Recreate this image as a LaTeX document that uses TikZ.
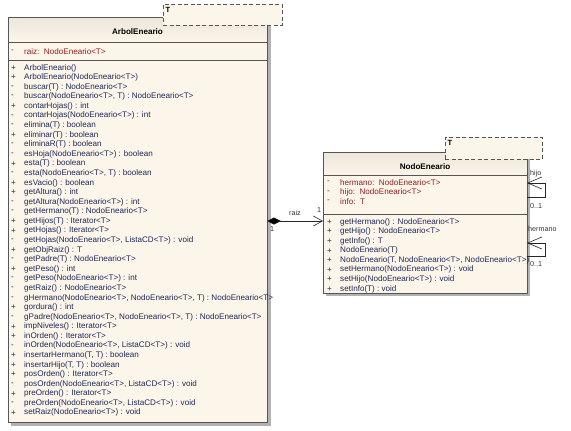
\documentclass[tikz,border=0pt]{standalone}
\usepackage{fontspec}
\setmainfont{Liberation Sans}
\usetikzlibrary{arrows.meta}
\definecolor{cream}{RGB}{252,245,234}
\definecolor{creamtop}{RGB}{236,229,217}
\definecolor{attrc}{RGB}{150,30,30}
\definecolor{methc}{RGB}{30,40,90}
\definecolor{edgec}{RGB}{85,85,85}
\tikzset{
 classbox/.style={fill=cream, draw=none, inner sep=0pt, outer sep=0pt, anchor=north west},
 border/.style={draw=edgec, line width=0.8pt},
 tmpl/.style={draw=edgec, dash pattern=on 4pt off 2.5pt, fill=cream, line width=0.8pt},
 shadowbox/.style={fill=black!30, draw=none},
 txt/.style={font=\fontsize{8.1}{9}\selectfont, inner sep=0pt, anchor=west},
 attr/.style={txt, text=attrc},
 meth/.style={txt, text=methc},
 ctitle/.style={font=\fontsize{8.1}{9}\selectfont\bfseries, inner sep=0pt},
 tlabel/.style={font=\fontsize{7.5}{8}\selectfont\bfseries, inner sep=0pt, anchor=west},
 lbl/.style={font=\fontsize{7.2}{8}\selectfont, inner sep=0pt, text=black!80},
 conn/.style={draw=black!85, line width=0.6pt},
}
\begin{document}
\begin{tikzpicture}[x=1pt,y=-1pt]
\useasboundingbox (0,0) rectangle (571,431);

% ---------- ArbolEneario ----------
\fill[shadowbox] (11,20) rectangle (271,426);
\node[classbox, minimum width=259pt, minimum height=405pt] (arbol) at (8,17) {};
\shade[top color=creamtop, bottom color=cream] (8,17) rectangle (267,42);
\draw[border] (8,42) -- (267,42);
\draw[border] (8,60) -- (267,60);
\draw[border] (arbol.north west) rectangle (arbol.south east);
\node[tmpl, minimum width=119pt, minimum height=21pt, inner sep=0pt, anchor=north west] (tA) at (163,4) {};
\node[tlabel] (tAT) at (165.5,9.5) {T};
\node[ctitle] (arbolT) at (137.5,32) {ArbolEneario};
\node[attr] (av) at (11,51.5) {-};
\node[attr] (aa) at (24,51.5) {raiz:\ \ NodoEneario<T>};

\foreach \v/\t [count=\i from 0] in {
 +/{ArbolEneario()},
 +/{ArbolEneario(NodoEneario<T>)},
 -/{buscar(T) : NodoEneario<T>},
 -/{buscar(NodoEneario<T>, T) : NodoEneario<T>},
 +/{contarHojas() : int},
 -/{contarHojas(NodoEneario<T>) : int},
 -/{elimina(T) : boolean},
 +/{eliminar(T) : boolean},
 -/{eliminaR(T) : boolean},
 -/{esHoja(NodoEneario<T>) : boolean},
 +/{esta(T) : boolean},
 -/{esta(NodoEneario<T>, T) : boolean},
 +/{esVacio() : boolean},
 +/{getAltura() : int},
 -/{getAltura(NodoEneario<T>) : int},
 -/{getHermano(T) : NodoEneario<T>},
 +/{getHijos(T) : Iterator<T>},
 +/{getHojas() : Iterator<T>},
 -/{getHojas(NodoEneario<T>, ListaCD<T>) : void},
 +/{getObjRaiz() : T},
 -/{getPadre(T) : NodoEneario<T>},
 +/{getPeso() : int},
 -/{getPeso(NodoEneario<T>) : int},
 -/{getRaiz() : NodoEneario<T>},
 -/{gHermano(NodoEneario<T>, NodoEneario<T>, T) : NodoEneario<T>},
 +/{gordura() : int},
 -/{gPadre(NodoEneario<T>, NodoEneario<T>, T) : NodoEneario<T>},
 +/{impNiveles() : Iterator<T>},
 +/{inOrden() : Iterator<T>},
 -/{inOrden(NodoEneario<T>, ListaCD<T>) : void},
 +/{insertarHermano(T, T) : boolean},
 +/{insertarHijo(T, T) : boolean},
 +/{posOrden() : Iterator<T>},
 -/{posOrden(NodoEneario<T>, ListaCD<T>) : void},
 +/{preOrden() : Iterator<T>},
 -/{preOrden(NodoEneario<T>, ListaCD<T>) : void},
 +/{setRaiz(NodoEneario<T>) : void}}{
  \node[meth] (amv\i) at (11,{68+\i*9.58}) {\v};
  \node[meth] (am\i) at (24,{68+\i*9.58}) {\t};
}

% ---------- NodoEneario ----------
\fill[shadowbox] (326,155) rectangle (530,296);
\node[classbox, minimum width=204pt, minimum height=141pt] (nodo) at (323,152) {};
\shade[top color=creamtop, bottom color=cream] (323,152) rectangle (527,175);
\draw[border] (323,175) -- (527,175);
\draw[border] (323,214) -- (527,214);
\draw[border] (nodo.north west) rectangle (nodo.south east);
\node[tmpl, minimum width=97pt, minimum height=22pt, inner sep=0pt, anchor=north west] (tN) at (445,137) {};
\node[tlabel] (tNT) at (447.5,143) {T};
\node[ctitle] (nodoT) at (425,167) {NodoEneario};
\node[attr] (nv1) at (327,182.3) {-};
\node[attr] (na1) at (340,182.3) {hermano:\ \ NodoEneario<T>};
\node[attr] (nv2) at (327,192.3) {-};
\node[attr] (na2) at (340,192.3) {hijo:\ \ NodoEneario<T>};
\node[attr] (nv3) at (327,201.7) {-};
\node[attr] (na3) at (340,201.7) {info:\ \ T};

\foreach \t [count=\i from 0] in {
 {getHermano() : NodoEneario<T>},
 {getHijo() : NodoEneario<T>},
 {getInfo() : T},
 {NodoEneario(T)},
 {NodoEneario(T, NodoEneario<T>, NodoEneario<T>)},
 {setHermano(NodoEneario<T>) : void},
 {setHijo(NodoEneario<T>) : void},
 {setInfo(T) : void}}{
  \node[meth] (nmv\i) at (327,{222+\i*9.57}) {+};
  \node[meth] (nm\i) at (340,{222+\i*9.57}) {\t};
}

% ---------- composition ----------
\path (arbol.north east) ++(0,204) coordinate (rzA);
\path (nodo.north west) ++(0,69) coordinate (rzB);
\draw[conn, {Diamond[length=14pt,width=7pt,fill=black]}-{Straight Barb[length=9pt,width=10pt]}] (rzA) -- (rzB)
  node[lbl, midway, above=5pt] (rzL) {raiz};
\node[lbl] (rzM1) at (319,210) {1};
\node[lbl] (rzM2) at (272,229) {1};

% ---------- self associations ----------
\path (nodo.north east) ++(0,45) coordinate (hjS);
\path (nodo.north east) ++(0,31) coordinate (hjE);
\draw[conn, -{Straight Barb[length=14pt,width=12pt]}] (hjS) -- ++(18,0) |- (hjE);
\node[lbl, anchor=west] (hjL) at (530,174) {hijo};
\node[lbl, anchor=west] (hjM) at (530,206) {0..1};

\path (nodo.north east) ++(0,104) coordinate (hrS);
\path (nodo.north east) ++(0,91) coordinate (hrE);
\draw[conn, -{Straight Barb[length=14pt,width=12pt]}] (hrS) -- ++(18,0) |- (hrE);
\node[lbl, anchor=west] (hrL) at (528,229) {hermano};
\node[lbl, anchor=west] (hrM) at (530,264) {0..1};
\end{tikzpicture}
\end{document}
